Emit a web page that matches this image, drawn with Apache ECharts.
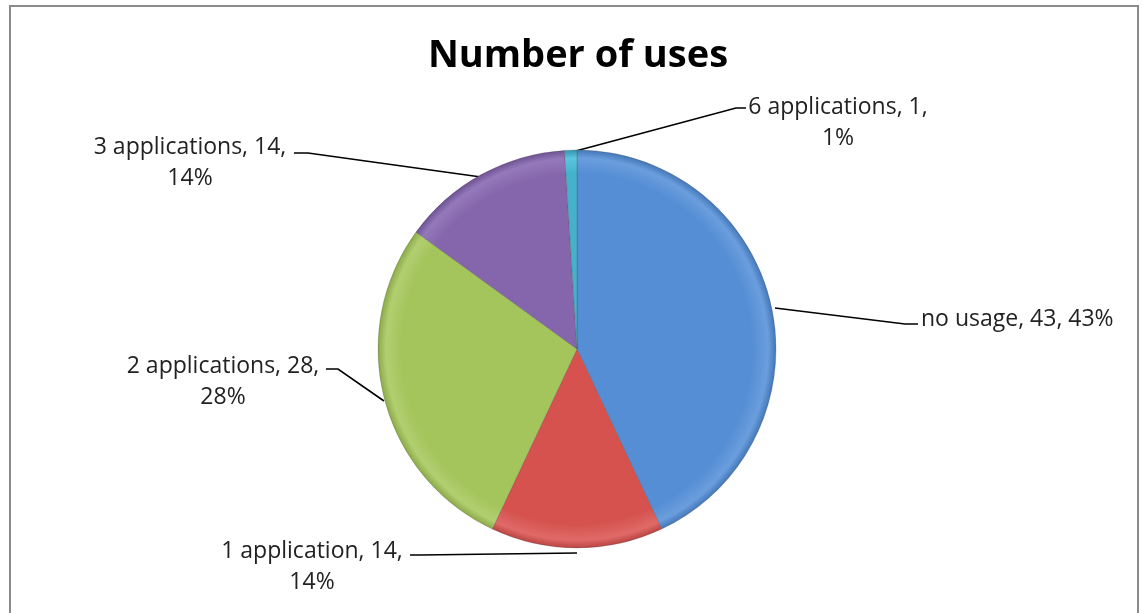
<!DOCTYPE html>
<html>
<head>
<meta charset="utf-8">
<script src="https://cdn.jsdelivr.net/npm/echarts@6/dist/echarts.min.js"></script>
<style>
html,body{margin:0;padding:0;background:#fff;}
#chart{width:1143px;height:613px;}
</style>
</head>
<body>
<div id="chart"></div>
<script>
// ---- data ----
const categories = ['no usage', '1 application', '2 applications', '3 applications', '6 applications'];
const values = [43, 14, 28, 14, 1];
const titleText = 'Number of uses';

// ---- style / layout ----
const baseColors = ['#558ED5', '#D5524F', '#A4C45C', '#8566AC', '#44B2CB'];
const lightColors = ['#6A9EDD', '#DF6A67', '#B2CF70', '#9479BA', '#5CC4DC'];
const darkColors = ['#4477B8', '#B94441', '#8CAA48', '#6E5294', '#3294AE'];
const cx = 577, cy = 349, R = 199;

// label placement (block centre / anchor) and leader line points
const labelPlace = [
  { x: 921, y: 319, align: 'left', line: [[775, 308], [905, 324], [918, 324]] },
  { x: 312, y: 567, align: 'center', line: [[577, 553], [420, 555], [410, 555]] },
  { x: 223, y: 382, align: 'center', line: [[384, 401], [338, 369], [326, 369]] },
  { x: 190, y: 163, align: 'center', line: [[481, 177], [308, 153], [294, 153]] },
  { x: 838, y: 123, align: 'center', line: [[572, 152], [736, 108], [746, 108]] }
];

const total = values.reduce((a, b) => a + b, 0);

const seriesData = categories.map((name, i) => ({
  name: name,
  value: values[i],
  itemStyle: {
    color: {
      type: 'radial', x: cx, y: cy, r: R, global: true,
      colorStops: [
        { offset: 0, color: baseColors[i] },
        { offset: 0.88, color: baseColors[i] },
        { offset: 0.96, color: lightColors[i] },
        { offset: 1, color: darkColors[i] }
      ]
    }
  }
}));

const chart = echarts.init(document.getElementById('chart'), null, { renderer: 'canvas' });
chart.setOption({
  animation: false,
  backgroundColor: '#ffffff',
  title: {
    text: titleText,
    left: 573,
    top: 32,
    textAlign: 'center',
    textStyle: { fontFamily: 'Open Sans', fontWeight: 'bold', fontSize: 38, color: '#000' }
  },
  graphic: [{
    type: 'rect',
    shape: { x: 10, y: 6, width: 1128, height: 640 },
    style: { fill: 'none', stroke: '#8a8a8a', lineWidth: 2 },
    silent: true
  }],
  series: [{
    type: 'pie',
    center: [cx, cy],
    radius: [0, R],
    startAngle: 90,
    clockwise: true,
    avoidLabelOverlap: false,
    data: seriesData,
    itemStyle: { borderColor: 'rgba(60,60,60,0.4)', borderWidth: 0.6 },
    label: {
      show: true,
      fontFamily: 'Open Sans',
      fontSize: 23,
      lineHeight: 31,
      color: '#222',
      formatter: function (p) {
        const pct = Math.round(p.value / total * 100) + '%';
        if (p.dataIndex === 0) return p.name + ', ' + p.value + ', ' + pct;
        return p.name + ', ' + p.value + ',\n' + pct;
      }
    },
    labelLine: {
      show: true,
      length: 20,
      length2: 10,
      lineStyle: { color: '#000', width: 1.6 }
    },
    labelLayout: function (params) {
      const pl = labelPlace[params.dataIndex];
      return {
        x: pl.x,
        y: pl.y,
        align: pl.align,
        verticalAlign: 'middle',
        labelLinePoints: pl.line
      };
    }
  }]
});
</script>
</body>
</html>
